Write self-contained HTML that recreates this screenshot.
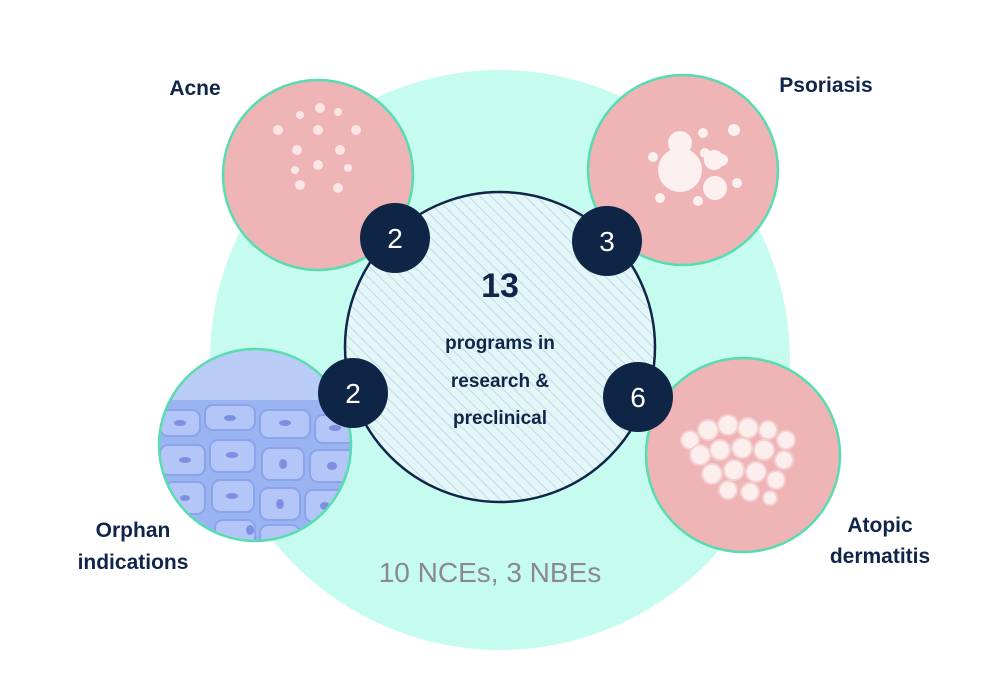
<!DOCTYPE html>
<html><head><style>
body{margin:0;width:1000px;height:681px;background:#fff;overflow:hidden;font-family:"Liberation Sans",sans-serif}
</style></head><body>
<svg width="1000" height="681" viewBox="0 0 1000 681" xmlns="http://www.w3.org/2000/svg">
<defs>
<pattern id="h" width="8" height="8" patternUnits="userSpaceOnUse" patternTransform="rotate(-45)">
<rect width="8" height="8" fill="#e4f6f8"/><line x1="0" y1="0" x2="0" y2="8" stroke="#b8dde6" stroke-width="2"/>
</pattern>
<clipPath id="oc"><circle cx="255" cy="445" r="96"/></clipPath>
</defs>
<circle cx="500" cy="360" r="290" fill="#c6fbf0"/>
<circle cx="500" cy="347" r="155" fill="url(#h)" stroke="#10254a" stroke-width="2.5"/>
<!-- Acne -->
<circle cx="318" cy="175" r="95" fill="#eeb4b6" stroke="#58dcb0" stroke-width="2.5"/>
<g fill="#fbe6e6">
<circle cx="278" cy="130" r="5"/><circle cx="320" cy="108" r="5"/><circle cx="300" cy="115" r="4"/><circle cx="338" cy="112" r="4"/>
<circle cx="318" cy="130" r="5"/><circle cx="356" cy="130" r="5"/><circle cx="297" cy="150" r="5"/><circle cx="340" cy="150" r="5"/>
<circle cx="318" cy="165" r="5"/><circle cx="348" cy="168" r="4"/><circle cx="295" cy="170" r="4"/><circle cx="338" cy="188" r="5"/><circle cx="300" cy="185" r="5"/>
</g>
<!-- Psoriasis -->
<circle cx="683" cy="170" r="95" fill="#eeb4b6" stroke="#58dcb0" stroke-width="2.5"/>
<g fill="#fdf0f0">
<circle cx="680" cy="170" r="22"/><circle cx="680" cy="143" r="12"/><circle cx="714" cy="160" r="10"/><circle cx="715" cy="188" r="12"/>
<circle cx="703" cy="133" r="5"/><circle cx="734" cy="130" r="6"/><circle cx="705" cy="153" r="5"/><circle cx="653" cy="157" r="5"/>
<circle cx="660" cy="198" r="5"/><circle cx="698" cy="201" r="5"/><circle cx="737" cy="183" r="5"/><circle cx="722" cy="160" r="6"/>
</g>
<!-- Orphan -->
<g clip-path="url(#oc)">
<rect x="150" y="340" width="220" height="220" fill="#9ab4f2"/>
<rect x="150" y="340" width="220" height="60" fill="#b9cdf7"/>
<g fill="#b4c6f8" stroke="#8aa3ea" stroke-width="2">
<rect x="160" y="410" width="40" height="26" rx="8"/><rect x="205" y="405" width="50" height="25" rx="8"/><rect x="260" y="410" width="50" height="28" rx="8"/><rect x="315" y="415" width="45" height="28" rx="8"/>
<rect x="160" y="445" width="45" height="30" rx="8"/><rect x="210" y="440" width="45" height="32" rx="8"/><rect x="262" y="448" width="42" height="32" rx="8"/><rect x="310" y="450" width="45" height="32" rx="8"/>
<rect x="165" y="482" width="40" height="32" rx="8"/><rect x="212" y="480" width="42" height="32" rx="8"/><rect x="260" y="488" width="40" height="32" rx="8"/><rect x="305" y="490" width="40" height="32" rx="8"/>
<rect x="215" y="520" width="40" height="30" rx="8"/><rect x="260" y="525" width="40" height="30" rx="8"/>
</g>
<g fill="#7d8fe0">
<ellipse cx="180" cy="423" rx="6" ry="3"/><ellipse cx="230" cy="418" rx="6" ry="3"/><ellipse cx="285" cy="423" rx="6" ry="3"/><ellipse cx="335" cy="428" rx="6" ry="3"/>
<ellipse cx="185" cy="460" rx="6" ry="3"/><ellipse cx="232" cy="455" rx="6" ry="3"/><ellipse cx="283" cy="464" rx="4" ry="5"/><ellipse cx="332" cy="466" rx="5" ry="4"/>
<ellipse cx="185" cy="498" rx="5" ry="3"/><ellipse cx="232" cy="496" rx="6" ry="3"/><ellipse cx="280" cy="504" rx="4" ry="5"/><ellipse cx="325" cy="506" rx="5" ry="4"/><ellipse cx="250" cy="530" rx="4" ry="5"/>
</g>
</g>
<circle cx="255" cy="445" r="96" fill="none" stroke="#58dcb0" stroke-width="2.5"/>
<!-- Atopic -->
<circle cx="743" cy="455" r="97" fill="#eeb4b6" stroke="#58dcb0" stroke-width="2.5"/>
<g fill="#fdeeee" stroke="#f5d0d0" stroke-width="2">
<circle cx="690" cy="440" r="9"/><circle cx="708" cy="430" r="10"/><circle cx="728" cy="425" r="10"/><circle cx="748" cy="428" r="10"/><circle cx="768" cy="430" r="9"/><circle cx="786" cy="440" r="9"/>
<circle cx="700" cy="455" r="10"/><circle cx="720" cy="450" r="10"/><circle cx="742" cy="448" r="10"/><circle cx="764" cy="450" r="10"/><circle cx="784" cy="460" r="9"/>
<circle cx="712" cy="474" r="10"/><circle cx="734" cy="470" r="10"/><circle cx="756" cy="472" r="10"/><circle cx="776" cy="480" r="9"/>
<circle cx="728" cy="490" r="9"/><circle cx="750" cy="492" r="9"/><circle cx="770" cy="498" r="7"/>
</g>
<!-- badges -->
<g fill="#0e2546">
<circle cx="395" cy="238" r="35"/><circle cx="607" cy="241" r="35"/><circle cx="353" cy="393" r="35"/><circle cx="638" cy="397" r="35"/>
</g>
<g fill="#fff" font-size="28" text-anchor="middle">
<text x="395" y="248">2</text><text x="607" y="251">3</text><text x="353" y="403">2</text><text x="638" y="407">6</text>
</g>
<g fill="#10254a" font-weight="bold" text-anchor="middle">
<text x="500" y="297" font-size="34">13</text>
<text x="500" y="349" font-size="19">programs in</text>
<text x="500" y="387" font-size="19">research &amp;</text>
<text x="500" y="424" font-size="19">preclinical</text>
<text x="195" y="95" font-size="21">Acne</text>
<text x="826" y="92" font-size="21">Psoriasis</text>
<text x="133" y="537" font-size="21">Orphan</text>
<text x="133" y="569" font-size="21">indications</text>
<text x="880" y="532" font-size="21">Atopic</text>
<text x="880" y="563" font-size="21">dermatitis</text>
</g>
<text x="490" y="582" font-size="28" fill="#8a8a8a" text-anchor="middle">10 NCEs, 3 NBEs</text>
</svg>
</body></html>
